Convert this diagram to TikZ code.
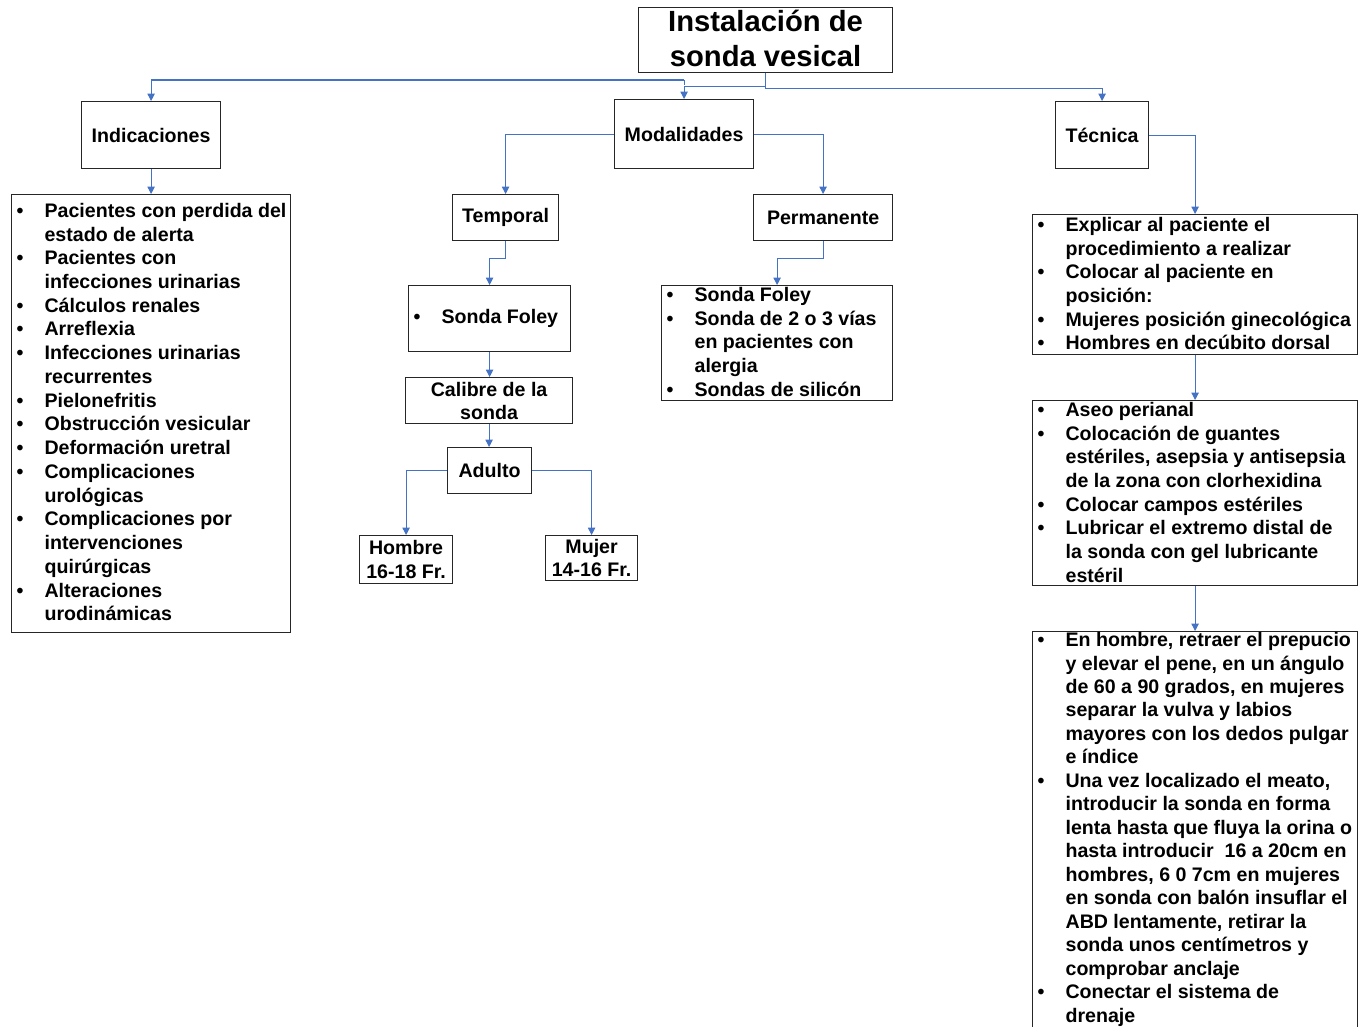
\documentclass[tikz,border=0pt]{standalone}
\usepackage{fontspec}
\setmainfont{Liberation Sans}
\usetikzlibrary{arrows.meta,calc}
\newlength\px \setlength\px{0.75pt}
\definecolor{lnblue}{HTML}{4472C4}
\newcommand\itm[1]{\par\noindent\hangindent=33\px\hangafter=1\makebox[33\px][l]{\strut\hspace{5\px}\textbullet}#1}
\newcommand\lst[4]{\parbox[c][#2][t]{#1}{\raggedright\fontsize{14.7}{17.8}\selectfont\bfseries\vspace*{#3}#4}}
\newcommand\lstb[4]{\parbox[c][#2][t]{#1}{\raggedright\fontsize{14.7}{17.6}\selectfont\bfseries\vspace*{#3}#4}}
\tikzset{
  hdr/.style={draw=black!85, line width=0.9pt, inner sep=0pt, anchor=north west,
    font=\fontsize{14.7}{17.8}\selectfont\bfseries, align=center},
  lbox/.style={draw=black!85, line width=0.9pt, inner sep=0pt, anchor=north west},
  conn/.style={draw=lnblue, line width=0.8pt, -{Triangle[length=5.5pt,width=5.5pt]}},
  ln/.style={draw=lnblue, line width=0.8pt}
}
\begin{document}
\begin{tikzpicture}[x=0.75pt,y=-0.75pt]
\useasboundingbox (0,0) rectangle (1365,1026);
\clip (0,0) rectangle (1365,1026);
% title
\node[hdr, minimum width=254*\px, minimum height=65*\px, text depth=3.2pt, font=\fontsize{21.9}{26.25}\selectfont\bfseries] (root) at (638,7) {Instalación de\\sonda vesical};
% level 1
\node[hdr, minimum width=139*\px, minimum height=67*\px] (ind) at (81,101) {Indicaciones};
\node[hdr, minimum width=139*\px, minimum height=69*\px] (mod) at (614,99) {Modalidades};
\node[hdr, minimum width=93*\px, minimum height=67*\px] (tec) at (1055,101) {Técnica};
% indications list
\node[lbox] (indl) at (11,194) {\lst{279\px}{438\px}{6.1\px}{%
\itm{Pacientes con perdida del\newline estado de alerta}
\itm{Pacientes con\newline infecciones urinarias}
\itm{Cálculos renales}
\itm{Arreflexia}
\itm{Infecciones urinarias\newline recurrentes}
\itm{Pielonefritis}
\itm{Obstrucción vesicular}
\itm{Deformación uretral}
\itm{Complicaciones\newline urológicas}
\itm{Complicaciones por\newline intervenciones\newline quirúrgicas}
\itm{Alteraciones\newline urodinámicas}}};
% modalities
\node[hdr, minimum width=106*\px, minimum height=46*\px] (temp) at (452,194) {Temporal};
\node[hdr, minimum width=139*\px, minimum height=46*\px] (perm) at (753,194) {Permanente};
\node[hdr, minimum width=162*\px, minimum height=66*\px, align=left] (sf) at (408,285) {\parbox{162\px}{\fontsize{14.7}{17.8}\selectfont\bfseries\itm{Sonda Foley}}};
\node[lbox] (pl) at (661,285) {\lst{231\px}{115\px}{-0.9\px}{%
\itm{Sonda Foley}
\itm{Sonda de 2 o 3 vías\newline en pacientes con\newline alergia}
\itm{Sondas de silicón}}};
\node[hdr, minimum width=167*\px, minimum height=46*\px, font=\fontsize{14.7}{17.25}\selectfont\bfseries] (cal) at (405,377) {Calibre de la\\sonda};
\node[hdr, minimum width=84*\px, minimum height=46*\px] (adu) at (447,447) {Adulto};
\node[hdr, minimum width=93*\px, minimum height=48*\px, font=\fontsize{14.7}{18}\selectfont\bfseries] (hom) at (359,535) {Hombre\\16-18 Fr.};
\node[hdr, minimum width=92*\px, minimum height=45*\px, font=\fontsize{14.7}{17.25}\selectfont\bfseries] (muj) at (545,535) {Mujer\\14-16 Fr.};
% technique
\node[lbox] (t1) at (1032,214) {\lst{325\px}{140\px}{0.1\px}{%
\itm{Explicar al paciente el\newline procedimiento a realizar}
\itm{Colocar al paciente en\newline posición:}
\itm{Mujeres posición ginecológica}
\itm{Hombres en decúbito dorsal}}};
\node[lbox] (t2) at (1032,400) {\lst{325\px}{185\px}{-0.9\px}{%
\itm{Aseo perianal}
\itm{Colocación de guantes\newline estériles, asepsia y antisepsia\newline de la zona con clorhexidina}
\itm{Colocar campos estériles}
\itm{Lubricar el extremo distal de\newline la sonda con gel lubricante\newline estéril}}};
\node[lbox] (t3) at (1032,631) {\lstb{325\px}{410\px}{-1.5\px}{%
\itm{En hombre, retraer el prepucio\newline y elevar el pene, en un ángulo\newline de 60 a 90 grados, en mujeres\newline separar la vulva y labios\newline mayores con los dedos pulgar\newline e índice}
\itm{Una vez localizado el meato,\newline introducir la sonda en forma\newline lenta hasta que fluya la orina o\newline hasta introducir\ \ 16 a 20cm en\newline hombres, 6 0 7cm en mujeres\newline en sonda con balón insuflar el\newline ABD lentamente, retirar la\newline sonda unos centímetros y\newline comprobar anclaje}
\itm{Conectar el sistema de\newline drenaje}}};
% connectors
\coordinate (j1) at ($(mod.north)+(0,-19)$);
\draw[conn] (root.south) -- ($(root.south)+(0,15)$) -| (tec.north);
\draw[conn] ($(root.south)+(0,13)$) -| (mod.north);
\draw[ln] (j1) -- ($(mod.north)+(0,-14)$);
\draw[conn] (j1) -| (ind.north);
\draw[conn] (ind.south) -- (indl.north);
\draw[conn] (mod.west) -| (temp.north);
\draw[conn] (mod.east) -| (perm.north);
\draw[conn] (tec.east) -| (t1.north);
\draw[conn] (temp.south) -- ($(temp.south)+(0,17)$) -| (sf.north);
\draw[conn] (perm.south) -- ($(perm.south)+(0,17)$) -| (pl.north);
\draw[conn] (sf.south) -- (sf.south |- cal.north);
\draw[conn] (cal.south) -- (cal.south |- adu.north);
\draw[conn] (adu.west) -| (hom.north);
\draw[conn] (adu.east) -| (muj.north);
\draw[conn] (t1.south) -- (t2.north);
\draw[conn] (t2.south) -- (t3.north);
\end{tikzpicture}
\end{document}
